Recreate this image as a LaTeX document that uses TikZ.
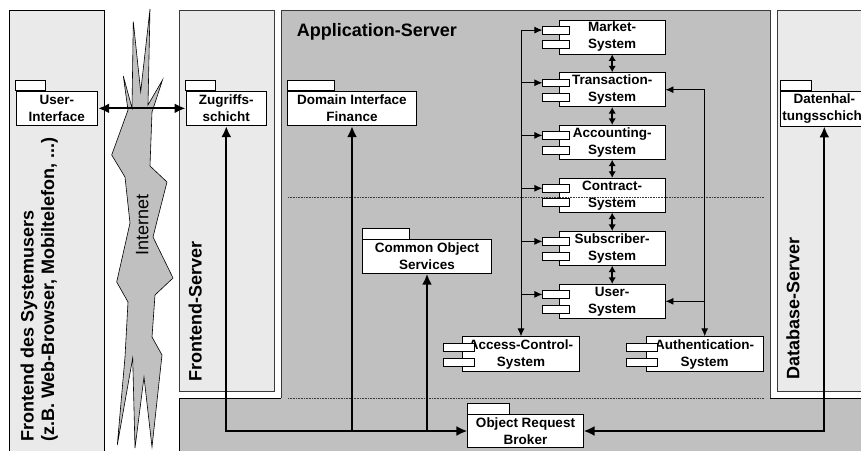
\documentclass[tikz,border=0pt]{standalone}
\usepackage{fontspec}
\setmainfont{Liberation Sans}
\usetikzlibrary{arrows.meta}
\definecolor{srvgray}{HTML}{C0C0C0}
\definecolor{panelgray}{HTML}{EAEAEA}
\definecolor{edgegray}{HTML}{3A3A3A}
\begin{document}
\begin{tikzpicture}[x=1pt,y=-1pt,
  boxfont/.style={font=\fontsize{13.5}{17}\selectfont\bfseries},
  bigfont/.style={font=\fontsize{18}{20.5}\selectfont\bfseries},
  pkg/.style={draw, fill=white, line width=0.8pt, inner sep=0pt, align=center, boxfont},
  tab/.style={draw, fill=white, line width=0.8pt},
  comp/.style={draw, fill=white, line width=0.8pt, inner sep=0pt, align=center, boxfont},
  port/.style={draw, fill=white, line width=0.8pt},
  panel/.style={fill=panelgray, draw=edgegray, line width=0.8pt},
  label/.style={inner sep=0pt, anchor=base west},
  bus/.style={line width=2.2pt, -{Latex[length=11pt,width=10pt]}},
  busboth/.style={line width=2.2pt, {Latex[length=11pt,width=10pt]}-{Latex[length=11pt,width=10pt]}},
  link/.style={line width=0.9pt, -{Latex[length=8pt,width=7pt]}},
  linkboth/.style={line width=0.9pt, {Latex[length=8pt,width=7pt]}-{Latex[length=8pt,width=7pt]}},
  stack/.style={line width=1.6pt, {Latex[length=6.5pt,width=7.5pt]}-{Latex[length=6.5pt,width=7.5pt]}},
  dotline/.style={densely dotted, line width=0.6pt, draw=edgegray}
]
\useasboundingbox (0,0) rectangle (861,450);
\clip (0,0) rectangle (861,450);
\fill[white] (0,0) rectangle (861,450);

% ---- server zones ----
\fill[srvgray] (179,398) rectangle (870,460);
\draw[line width=1pt] (179,460) -- (179,398) -- (281,398);
\draw[line width=1pt] (770,398) -- (870,398);
\fill[srvgray] (281,10) rectangle (770,398);
\draw[line width=1pt, draw=edgegray] (281,398) -- (281,10) -- (770,10) -- (770,398);
\draw[panel] (777,10) rectangle (875,391);
\draw[panel] (179,10) rectangle (274,391);
\draw[fill=panelgray, draw=black, line width=0.8pt] (9,10) rectangle (104,460);

% ---- internet cloud ----
\filldraw[fill=srvgray, draw=black, line width=0.6pt]
  (133.3,21.7) -- (140.7,91.7) -- (150,9) -- (148,105) -- (162.5,80) -- (152,112)
  -- (150,166) -- (167,182) -- (156,225) -- (153,237) -- (173,278) -- (155,295)
  -- (152,337) -- (162,355) -- (152,447) -- (144,377) -- (135,448) -- (132.7,358)
  -- (117.3,445) -- (125,357) -- (128,302) -- (116.7,282) -- (130,223) -- (125,177)
  -- (111.7,155) -- (128,110) -- (123.3,76) -- (132,108) -- cycle;

% ---- zone labels ----
\node[label, bigfont] (apptitle) at (296.7,36) {Application-Server};
\node[label, bigfont, rotate=90] (fstitle) at (201.7,381.7) {Frontend-Server};
\node[label, bigfont, rotate=90] (dbtitle) at (799.3,380) {Database-Server};
\node[label, bigfont, rotate=90] (fetitle) at (33.5,442) {Frontend des Systemusers};
\node[label, bigfont, rotate=90] (fesub) at (54,442) {(z.B. Web-Browser, Mobiltelefon, ...)};
\node[label, font=\fontsize{18}{20}\selectfont, rotate=90] (inet) at (148.3,256) {Internet};

% ---- packages ----
\node[pkg, minimum width=81.7pt, minimum height=34.7pt] (ui) at (56.85,108.35) {User-\\Interface};
\node[pkg, minimum width=80.7pt, minimum height=34.7pt] (zs) at (226.3,108.35) {Zugriffs-\\schicht};
\node[pkg, minimum width=129.4pt, minimum height=34.7pt] (dif) at (352,108.35) {Domain Interface\\Finance};
\node[pkg, minimum width=129.4pt, minimum height=34pt] (cos) at (427,256.3) {Common Object\\Services};
\node[pkg, minimum width=115.3pt, minimum height=33.4pt] (orb) at (525.5,431) {Object Request\\Broker};
\node[pkg, minimum width=87.3pt, minimum height=35pt] (dh) at (824.3,108.5) {Datenhal-\\tungsschicht};
\draw[tab] (ui.north west) rectangle ++(30,-10.5);
\draw[tab] (zs.north west) rectangle ++(30,-10.5);
\draw[tab] (dif.north west) rectangle ++(47.7,-10.5);
\draw[tab] (cos.north west) rectangle ++(47.7,-11);
\draw[tab] (orb.north west) rectangle ++(42.3,-11);
\draw[tab] (dh.north west) rectangle ++(31.6,-10.5);

% ---- components ----
\node[comp, minimum width=105.7pt, minimum height=34pt] (ms) at (612.2,37) {Market-\\System};
\node[comp, minimum width=105.7pt, minimum height=34pt] (ts) at (612.2,89.7) {Transaction-\\System};
\node[comp, minimum width=105.7pt, minimum height=34pt] (as) at (612.2,142.3) {Accounting-\\System};
\node[comp, minimum width=105.7pt, minimum height=34pt] (cs) at (612.2,195.2) {Contract-\\System};
\node[comp, minimum width=105.7pt, minimum height=34pt] (ss) at (612.2,248.3) {Subscriber-\\System};
\node[comp, minimum width=105.7pt, minimum height=34pt] (us) at (612.2,301.3) {User-\\System};
\node[comp, minimum width=116.6pt, minimum height=35pt] (ac) at (521,354.2) {Access-Control-\\System};
\node[comp, minimum width=117.3pt, minimum height=35pt] (au) at (704.7,354.2) {Authentication-\\System};
\foreach \n in {ms,ts,as,cs,ss,us} {
  \draw[port] ([xshift=-16.6pt,yshift=-6.7pt]\n.north west) rectangle ++(27.3,7.6);
  \draw[port] ([xshift=-16.6pt,yshift=-21pt]\n.north west) rectangle ++(27.3,8);
  \coordinate (\n-p) at ([xshift=-16.6pt,yshift=-10.5pt]\n.north west);
}
\foreach \n in {ac,au} {
  \draw[port] ([xshift=-19.4pt,yshift=-6.7pt]\n.north west) rectangle ++(31,8.3);
  \draw[port] ([xshift=-19.4pt,yshift=-21.7pt]\n.north west) rectangle ++(31,8.3);
}

% ---- dotted tier separators ----
\draw[dotline] (288,197) -- (764,197);
\draw[dotline] (288,398) -- (764,398);

% ---- connectors ----
\draw[busboth] (ui.east) -- (zs.west);
\draw[busboth] (zs.south) |- (orb.west);
\draw[bus] (dif.south |- orb.west) -- (dif.south);
\draw[bus] (cos.south |- orb.west) -- (cos.south);
\draw[busboth] (dh.south) |- (orb.east);

\draw[linkboth] (ac.north) |- (ms-p);
\foreach \n in {ts,as,cs,ss,us} {
  \draw[link] (ac.north |- \n-p) -- (\n-p);
}
\draw[linkboth] (ts.east) -| (au.north);
\draw[link] (au.north |- us.east) -- (us.east);

\draw[stack] (ms.south) -- (ts.north);
\draw[stack] (ts.south) -- (as.north);
\draw[stack] (as.south) -- (cs.north);
\draw[stack] (cs.south) -- (ss.north);
\draw[stack] (ss.south) -- (us.north);
\end{tikzpicture}
\end{document}
